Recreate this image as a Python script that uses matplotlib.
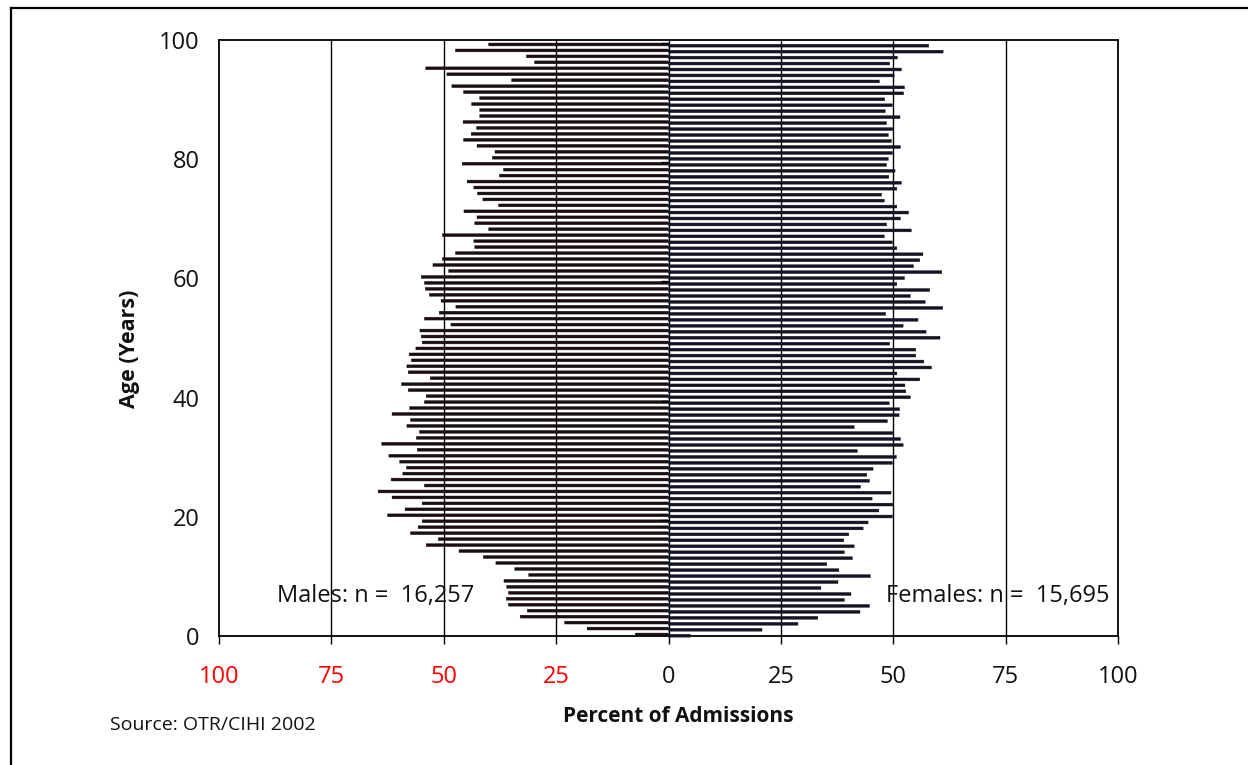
import matplotlib
matplotlib.use('Agg')
import matplotlib.pyplot as plt
from matplotlib.lines import Line2D
import numpy as np

plt.rcParams['font.family'] = ['Open Sans', 'DejaVu Sans']

# ---- data (ages 0..99, percent of admissions) ----
ages = list(range(100))
males = [7.4, 18.1, 23.1, 33.0, 31.4, 35.6, 36.1, 35.6, 36.0, 36.6, 31.1, 34.2, 38.4, 41.2, 46.6, 53.9,
         51.2, 57.4, 55.7, 54.8, 62.5, 58.6, 54.8, 61.5, 64.6, 54.3, 61.7, 59.1, 58.3, 59.8, 62.2, 55.9, 63.8,
         56.1, 55.4, 58.2, 57.4, 61.5, 57.6, 54.3, 53.9, 57.9, 59.4, 53.0, 57.9, 58.2, 57.2, 57.7, 56.2, 54.8,
         55.0, 55.3, 48.4, 54.3, 51.0, 47.3, 50.6, 53.2, 54.1, 54.3, 55.0, 48.9, 52.4, 50.3, 47.4, 43.1, 43.3,
         50.3, 40.0, 43.1, 42.6, 45.5, 37.8, 41.3, 42.5, 43.3, 44.8, 37.6, 36.7, 45.9, 39.2, 38.6, 42.6, 45.6,
         43.9, 42.7, 45.7, 42.0, 42.0, 43.8, 42.0, 45.6, 48.2, 34.9, 49.3, 54.0, 29.8, 31.6, 47.4, 40.0]
females = [4.9, 20.8, 28.8, 33.2, 42.6, 44.7, 39.1, 40.6, 33.9, 37.7, 44.9, 37.9, 35.2, 40.9, 39.1, 41.3,
           39.0, 40.1, 43.3, 44.4, 49.8, 46.8, 49.9, 45.3, 49.5, 42.7, 44.7, 44.1, 45.5, 49.8, 50.7, 42.0, 52.2,
           51.6, 49.9, 41.3, 48.7, 51.3, 51.4, 49.1, 53.8, 52.8, 52.6, 55.9, 50.8, 58.5, 56.8, 55.0, 55.0, 49.2,
           60.4, 57.3, 52.2, 55.5, 48.3, 61.0, 57.1, 53.8, 58.1, 50.8, 52.5, 60.8, 54.5, 55.9, 56.6, 50.8, 49.8,
           48.0, 54.0, 48.5, 51.6, 53.4, 50.8, 48.0, 47.4, 50.8, 51.8, 49.0, 50.4, 48.5, 48.9, 49.8, 51.6, 49.6,
           48.9, 49.9, 48.5, 51.5, 48.2, 49.8, 48.1, 52.3, 52.5, 46.9, 50.2, 51.8, 49.2, 50.9, 61.1, 57.9]
xticks = [-100, -75, -50, -25, 0, 25, 50, 75, 100]
yticks = [0, 20, 40, 60, 80, 100]
male_label = 'Males: n =  16,257'
female_label = 'Females: n =  15,695'
source = 'Source: OTR/CIHI 2002'

W, H = 1248, 765
fig = plt.figure(figsize=(W / 100, H / 100), dpi=100)
ax = fig.add_axes([219 / W, 1 - 636 / H, (1118 - 219) / W, (636 - 40) / H])

y = np.array(ages, dtype=float)
mbars = ax.barh(y + 0.25, -np.array(males), height=0.48, color='#1c0c16', edgecolor='#111111',
                linewidth=0.3, zorder=3, clip_on=False)
fbars = ax.barh(y + 0.05, np.array(females), height=0.48, color='#141428', edgecolor='#111111',
                linewidth=0.3, zorder=3, clip_on=False)
for p in list(mbars) + list(fbars):
    p.set_snap(False)

for t in xticks[1:-1]:
    ax.axvline(t, color='black', lw=1.0, zorder=1)

# category-axis tick stubs at the centre line
ax.hlines([t - 0.5 for t in yticks[1:]], -1.6, 0, color='black', lw=1.0, zorder=4)

ax.set_xlim(-100, 100)
ax.set_ylim(0, 100)
ax.set_xticks(xticks)
ax.set_xticklabels([str(abs(t)) for t in xticks])
for lbl, t in zip(ax.get_xticklabels(), xticks):
    lbl.set_color('red' if t < 0 else '#111111')
ax.set_yticks(yticks)
ax.set_yticklabels([str(t) for t in yticks], color='#111111')
ax.tick_params(axis='x', direction='out', length=6, width=1, pad=15, labelsize=17)
ax.tick_params(axis='y', length=0, pad=14, labelsize=17)
for s in ax.spines.values():
    s.set_linewidth(1.3)
    s.set_color('black')

ax.text(-87.1, 5.65, male_label, fontsize=17, ha='left', va='baseline', color='#111111', zorder=5)
ax.text(48.4, 5.65, female_label, fontsize=17, ha='left', va='baseline', color='#111111', zorder=5)

fig.text(678.5 / W, 1 - 722 / H, 'Percent of Admissions', fontsize=15, fontweight='bold',
         ha='center', va='baseline', color='#111111')
fig.text(129 / W, 1 - 349 / H, 'Age (Years)', fontsize=15.5, fontweight='bold', rotation=90,
         ha='center', va='center', color='#111111')
fig.text(110 / W, 1 - 730 / H, source, fontsize=14, ha='left', va='baseline', color='#111111')

# outer frame (left and top edges visible)
fig.add_artist(Line2D([11 / W, 11 / W], [0, 1 - 8 / H], transform=fig.transFigure, color='black', lw=1.6))
fig.add_artist(Line2D([11 / W, 1], [1 - 8 / H, 1 - 8 / H], transform=fig.transFigure, color='black', lw=1.6))

fig.savefig('out.png', dpi=100)
